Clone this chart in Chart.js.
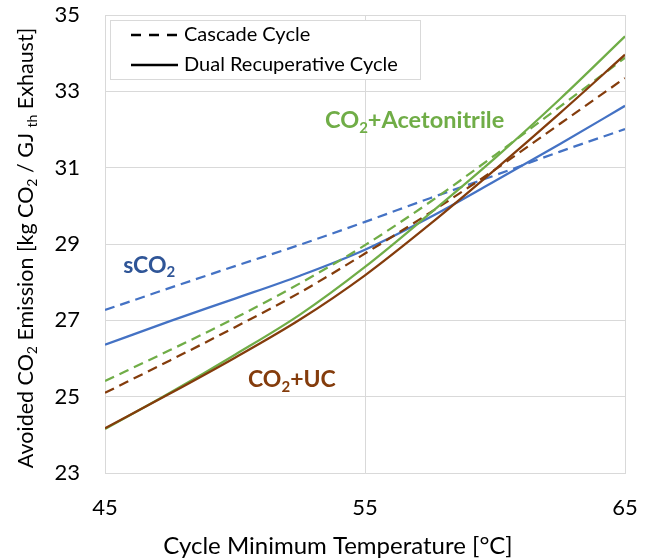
<!DOCTYPE html>
<html>
<head>
<meta charset="utf-8">
<script src="https://cdn.jsdelivr.net/npm/chart.js@4.4.1/dist/chart.umd.min.js"></script>
<style>
  body { margin: 0; background: #fff; }
</style>
</head>
<body>
<canvas id="myChart" width="651" height="560"></canvas>
<script>
// cycle minimum temperature [°C]
var temps = [45, 47.5, 50, 52.5, 55, 57.5, 60, 62.5, 65];
var yTicks = [23, 25, 27, 29, 31, 33, 35];
var xTicks = [45, 55, 65];

// avoided CO2 emission
var sco2Cascade = [27.27, 27.85, 28.42, 28.98, 29.58, 30.2, 30.8, 31.42, 32.01];
var sco2Dual    = [26.36, 26.98, 27.57, 28.17, 28.85, 29.7, 30.65, 31.62, 32.62];
var acnCascade  = [25.41, 26.22, 27.06, 27.97, 28.97, 30.1, 31.33, 32.6, 33.88];
var acnDual     = [24.15, 25.1, 26.1, 27.15, 28.4, 29.8, 31.25, 32.8, 34.44];
var ucCascade   = [25.10, 25.95, 26.82, 27.73, 28.75, 29.82, 30.95, 32.15, 33.35];
var ucDual      = [24.17, 25.08, 26.02, 27.02, 28.18, 29.52, 30.95, 32.43, 33.96];

var FONT = 'Lato, "Open Sans", sans-serif';
var BLUE = '#4472C4', GREEN = '#70AD47', BROWN = '#843C0C';

function pts(arr) {
  return temps.map(function(t, i) { return { x: t, y: arr[i] }; });
}
function ds(arr, color, dashed) {
  return {
    data: pts(arr),
    borderColor: color,
    borderDash: dashed ? [10, 6] : [],
    borderWidth: 2.25,
    pointRadius: 0,
    cubicInterpolationMode: 'monotone',
    fill: false
  };
}

// draws text with subscript pieces, segs = [[text, isSub], ...]
function richWidth(ctx, segs, size, weight) {
  var w = 0;
  segs.forEach(function(s) {
    ctx.font = weight + ' ' + (s[1] ? Math.round(size * 0.65) : size) + 'px ' + FONT;
    w += ctx.measureText(s[0]).width;
  });
  return w;
}
function drawRich(ctx, segs, x, y, size, weight, color) {
  ctx.fillStyle = color;
  ctx.textBaseline = 'middle';
  ctx.textAlign = 'left';
  segs.forEach(function(s) {
    ctx.font = weight + ' ' + (s[1] ? Math.round(size * 0.65) : size) + 'px ' + FONT;
    ctx.fillText(s[0], x, s[1] ? y + size * 0.3 : y);
    x += ctx.measureText(s[0]).width;
  });
}

var extras = {
  id: 'extras',
  afterDraw: function(chart) {
    var ctx = chart.ctx, xs = chart.scales.x, ys = chart.scales.y;
    ctx.save();

    // legend box
    ctx.fillStyle = '#fff';
    ctx.fillRect(110, 20, 310, 59);
    ctx.strokeStyle = '#D9D9D9';
    ctx.lineWidth = 1;
    ctx.strokeRect(110.5, 20.5, 310, 59);
    ctx.strokeStyle = '#000';
    ctx.lineWidth = 2.5;
    ctx.setLineDash([10, 8]);
    ctx.beginPath(); ctx.moveTo(131, 35); ctx.lineTo(177, 35); ctx.stroke();
    ctx.setLineDash([]);
    ctx.beginPath(); ctx.moveTo(131, 65); ctx.lineTo(178, 65); ctx.stroke();
    drawRich(ctx, [['Cascade Cycle', false]], 184, 35, 20, 'normal', '#000');
    drawRich(ctx, [['Dual Recuperative Cycle', false]], 184, 65, 20, 'normal', '#000');

    // series labels
    drawRich(ctx, [['sCO', false], ['2', true]], xs.getPixelForValue(45.7), ys.getPixelForValue(28.44), 23, 'bold', '#2F5597');
    drawRich(ctx, [['CO', false], ['2', true], ['+Acetonitrile', false]], xs.getPixelForValue(53.46), ys.getPixelForValue(32.23), 23.5, 'bold', GREEN);
    drawRich(ctx, [['CO', false], ['2', true], ['+UC', false]], xs.getPixelForValue(50.5), ys.getPixelForValue(25.44), 23, 'bold', BROWN);

    // x title
    var xt = [['Cycle Minimum Temperature [°C]', false]];
    var w = richWidth(ctx, xt, 24, 'normal');
    drawRich(ctx, xt, 338 - w / 2, 546, 24, 'normal', '#000');

    // y title
    var yt = [['Avoided CO', false], ['2', true], [' Emission [kg CO', false], ['2', true],
              [' / GJ ', false], ['th', true], [' Exhaust]', false]];
    w = richWidth(ctx, yt, 21.5, 'normal');
    ctx.translate(26, 248);
    ctx.rotate(-Math.PI / 2);
    drawRich(ctx, yt, -w / 2, 0, 21.5, 'normal', '#000');
    ctx.restore();
  }
};

var ctx = document.getElementById('myChart').getContext('2d');
var chart = new Chart(ctx, {
  type: 'line',
  data: {
    datasets: [
      ds(ucDual, BROWN, false),
      ds(acnDual, GREEN, false),
      ds(ucCascade, BROWN, true),
      ds(acnCascade, GREEN, true),
      ds(sco2Dual, BLUE, false),
      ds(sco2Cascade, BLUE, true)
    ]
  },
  options: {
    responsive: false,
    animation: false,
    layout: { padding: { left: 0, right: 26, top: 15, bottom: 0 } },
    plugins: { legend: { display: false }, tooltip: { enabled: false } },
    scales: {
      x: {
        type: 'linear', min: 45, max: 65,
        afterBuildTicks: function(s) { s.ticks = xTicks.map(function(v) { return { value: v }; }); },
        afterFit: function(s) { s.height = 87; s.paddingLeft = 0; s.paddingRight = 0; },
        ticks: { padding: 22, color: '#000', font: { family: FONT, size: 22 } },
        grid: { color: '#D9D9D9', drawTicks: false },
        border: { color: '#D9D9D9' }
      },
      y: {
        min: 23, max: 35,
        afterBuildTicks: function(s) { s.ticks = yTicks.map(function(v) { return { value: v }; }); },
        afterFit: function(s) { s.width = 105; s.paddingTop = 0; s.paddingBottom = 0; },
        ticks: { padding: 25, color: '#000', font: { family: FONT, size: 22 } },
        grid: { color: '#D9D9D9', drawTicks: false },
        border: { color: '#D9D9D9' }
      }
    }
  },
  plugins: [extras]
});
</script>
</body>
</html>
